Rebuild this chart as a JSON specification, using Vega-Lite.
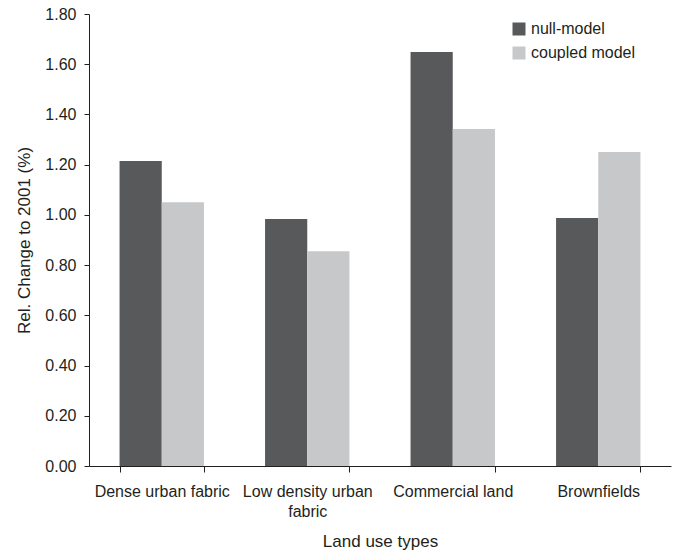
{
  "$schema": "https://vega.github.io/schema/vega-lite/v6.json",
  "width": 582,
  "height": 452,
  "autosize": {"type": "none"},
  "padding": {"left": 89, "top": 14, "right": 8, "bottom": 87},
  "background": "white",
  "config": {
    "view": {"stroke": null},
    "font": "Liberation Sans",
    "axis": {"labelFont": "Liberation Sans", "titleFont": "Liberation Sans", "labelFontSize": 16, "titleFontSize": 17, "titleFontWeight": "normal", "labelColor": "#231f20", "titleColor": "#231f20", "domainColor": "#231f20", "tickColor": "#231f20", "grid": false}
  },
  "data": {
    "values": [
      {"type": "Dense urban fabric", "model": "null-model", "value": 1.215},
      {"type": "Dense urban fabric", "model": "coupled model", "value": 1.05},
      {"type": "Low density urban fabric", "model": "null-model", "value": 0.984},
      {"type": "Low density urban fabric", "model": "coupled model", "value": 0.855},
      {"type": "Commercial land", "model": "null-model", "value": 1.649},
      {"type": "Commercial land", "model": "coupled model", "value": 1.342},
      {"type": "Brownfields", "model": "null-model", "value": 0.988},
      {"type": "Brownfields", "model": "coupled model", "value": 1.25}
    ]
  },
  "mark": {"type": "bar"},
  "encoding": {
    "x": {
      "field": "type", "type": "nominal",
      "sort": ["Dense urban fabric", "Low density urban fabric", "Commercial land", "Brownfields"],
      "scale": {"paddingInner": 0.42, "paddingOuter": 0.21},
      "axis": {
        "title": "Land use types", "labelAngle": 0, "tickBand": "extent", "tickSize": 6,
        "labelPadding": 11, "labelLineHeight": 20, "titlePadding": 14, "labelLimit": 300,
        "labelExpr": "datum.label == 'Low density urban fabric' ? ['Low density urban', 'fabric'] : datum.label"
      }
    },
    "xOffset": {
      "field": "model", "type": "nominal",
      "sort": ["null-model", "coupled model"],
      "scale": {"paddingInner": 0, "paddingOuter": 0}
    },
    "y": {
      "field": "value", "type": "quantitative",
      "scale": {"domain": [0, 1.8], "nice": false},
      "axis": {"title": "Rel. Change to 2001 (%)", "format": ".2f", "values": [0, 0.2, 0.4, 0.6, 0.8, 1.0, 1.2, 1.4, 1.6, 1.8], "tickSize": 5, "labelPadding": 8, "titlePadding": 11}
    },
    "color": {
      "field": "model", "type": "nominal",
      "sort": ["null-model", "coupled model"],
      "scale": {"domain": ["null-model", "coupled model"], "range": ["#58595b", "#c7c8ca"]},
      "legend": {"title": null, "orient": "none", "legendX": 422, "legendY": 7, "symbolType": "square", "symbolSize": 169, "symbolStrokeWidth": 0, "labelFontSize": 16, "labelFont": "Liberation Sans", "labelColor": "#231f20", "rowPadding": 8, "labelOffset": 4, "symbolOpacity": 1}
    }
  }
}
